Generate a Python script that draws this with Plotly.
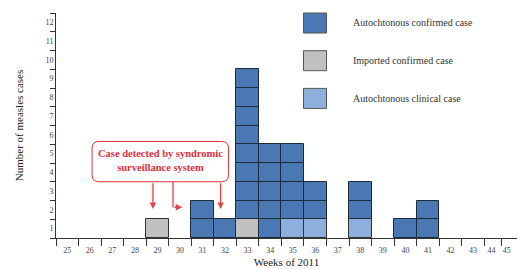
import plotly.graph_objects as go

weeks = list(range(25, 46))
week_labels = [str(w) for w in weeks]

# cases per week by type
confirmed_weeks = [31, 32, 33, 34, 35, 36, 38, 40, 41]
confirmed_vals = [2, 1, 8, 5, 4, 2, 2, 1, 2]
imported_weeks = [29, 33]
imported_vals = [1, 1]
clinical_weeks = [35, 36, 38]
clinical_vals = [1, 1, 1]

y_labels = [str(i) for i in range(1, 13)]

C_CONF = "#4a78b2"
C_IMP = "#c0c0c0"
C_CLIN = "#8cafdc"
RED = "#e0303a"

fig = go.Figure()

base_count = {w: 0 for w in weeks}


def add_series(wks, vals, color, name, edge):
    xs, bs = [], []
    for w, v in zip(wks, vals):
        for k in range(v):
            xs.append(w)
            bs.append(base_count[w] + k)
        base_count[w] += v
    fig.add_trace(go.Bar(x=xs, y=[1] * len(xs), base=bs, width=1,
                         marker=dict(color=color, line=dict(color=edge, width=1)),
                         name=name, showlegend=False, hoverinfo="skip"))


add_series(imported_weeks, imported_vals, C_IMP, "Imported confirmed case", "#333333")
add_series(clinical_weeks, clinical_vals, C_CLIN, "Autochtonous clinical case", "#333333")
add_series(confirmed_weeks, confirmed_vals, C_CONF, "Autochtonous confirmed case", "#1c2a3c")

# x tick positions (compressed at the right edge like the reference)
xlab_pos = [float(w) for w in weeks[:-2]] + [43.82, 44.5]
xtick_pos = [w - 0.5 for w in weeks[:-1]] + [44.27]

font = "Liberation Serif"

fig.update_layout(
    width=519, height=269,
    margin=dict(l=56, r=2, t=13, b=31),
    plot_bgcolor="white", paper_bgcolor="white",
    barmode="overlay", bargap=0,
    font=dict(family=font, color="#333333"),
    xaxis=dict(range=[24.5, 44.95], showline=True, linecolor="#333333", linewidth=1,
               tickvals=xlab_pos, ticktext=week_labels, ticks="", showgrid=False,
               zeroline=False, tickfont=dict(size=8, family=font, color="#444444"),
               ticklabelstandoff=4,
               minor=dict(tickvals=xtick_pos, ticks="outside", ticklen=7,
                          tickcolor="#333333", showgrid=False),
               title=dict(text="Weeks of 2011", font=dict(size=11, family=font, color="#222222"),
                          standoff=4)),
    yaxis=dict(range=[0, 12], showline=True, linecolor="#333333", linewidth=1,
               tickvals=[i + 0.5 for i in range(12)], ticktext=y_labels, ticks="",
               showgrid=False, zeroline=False,
               tickfont=dict(size=8, family=font, color="#444444"),
               minor=dict(tickvals=list(range(0, 13)), ticks="outside", ticklen=5,
                          tickcolor="#333333", showgrid=False),
               title=dict(text="Number of measles cases",
                          font=dict(size=11, family=font, color="#222222"), standoff=19)),
)

# legend drawn as shapes + text
legend_items = [("Autochtonous confirmed case", C_CONF),
                ("Imported confirmed case", C_IMP),
                ("Autochtonous clinical case", C_CLIN)]
for i, (txt, col) in enumerate(legend_items):
    yc = 23 + i * 37.7
    y0 = 1 - (yc - 10 - 13) / 225
    y1 = 1 - (yc + 10 - 13) / 225
    x0 = (303.5 - 56) / 461
    x1 = (326.5 - 56) / 461
    fig.add_shape(type="rect", xref="paper", yref="paper", x0=x0, x1=x1, y0=y1, y1=y0,
                  fillcolor=col, line=dict(color="#555555", width=1))
    fig.add_annotation(xref="paper", yref="paper", x=(351 - 56) / 461, y=1 - (yc - 13) / 225,
                       text=txt, showarrow=False, xanchor="left", yanchor="middle",
                       font=dict(size=10, family=font, color="#333333"))

# rounded callout box (data coords)
bx0, bx1, by0, by1 = 26.1, 32.15, 3.0, 5.15
r_x, r_y = 0.3, 0.35
path = (f"M {bx0 + r_x},{by0} L {bx1 - r_x},{by0} Q {bx1},{by0} {bx1},{by0 + r_y} "
        f"L {bx1},{by1 - r_y} Q {bx1},{by1} {bx1 - r_x},{by1} "
        f"L {bx0 + r_x},{by1} Q {bx0},{by1} {bx0},{by1 - r_y} "
        f"L {bx0},{by0 + r_y} Q {bx0},{by0} {bx0 + r_x},{by0} Z")
fig.add_shape(type="path", path=path, xref="x", yref="y",
              line=dict(color=RED, width=1), fillcolor="white", layer="above")
fig.add_annotation(x=(bx0 + bx1) / 2, y=(by0 + by1) / 2 + 0.05, xref="x", yref="y",
                   text="<b>Case detected by syndromic<br>surveillance system</b>",
                   showarrow=False, font=dict(size=10.5, family=font, color=RED),
                   align="center")

# arrows
arrow_col = "#e8404a"
fig.add_annotation(x=28.8, y=1.55, ax=28.8, ay=3.0, xref="x", yref="y", axref="x", ayref="y",
                   showarrow=True, arrowhead=2, arrowsize=1, arrowwidth=1.3, arrowcolor=arrow_col,
                   text="")
fig.add_shape(type="line", x0=29.69, x1=29.69, y0=3.0, y1=1.64, xref="x", yref="y",
              line=dict(color=arrow_col, width=1.3))
fig.add_annotation(x=30.1, y=1.64, ax=29.69, ay=1.64, xref="x", yref="y", axref="x", ayref="y",
                   showarrow=True, arrowhead=2, arrowsize=1, arrowwidth=1.3, arrowcolor=arrow_col,
                   text="")
fig.add_annotation(x=31.8, y=1.55, ax=31.8, ay=3.0, xref="x", yref="y", axref="x", ayref="y",
                   showarrow=True, arrowhead=2, arrowsize=1, arrowwidth=1.3, arrowcolor=arrow_col,
                   text="")

fig.write_html("out.html", config={"displayModeBar": False},
               post_script="document.body.style.margin='0';")
